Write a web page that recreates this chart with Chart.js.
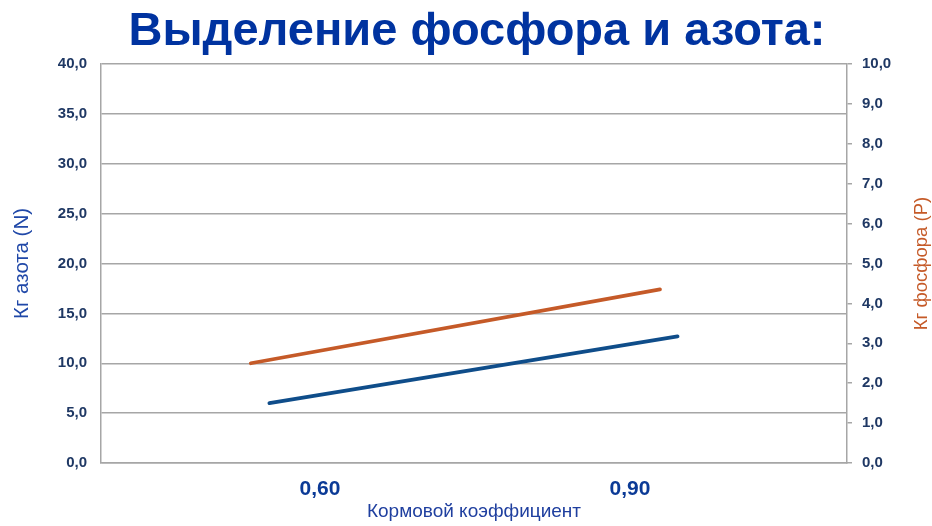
<!DOCTYPE html>
<html>
<head>
<meta charset="utf-8">
<script src="https://cdn.jsdelivr.net/npm/chart.js@4.4.0/dist/chart.umd.min.js"></script>
<style>
  html, body { margin: 0; padding: 0; background: #fff; }
  #wrap { width: 932px; height: 526px; }
</style>
</head>
<body>
<div id="wrap"><canvas id="chart"></canvas></div>
<script>
const titleText = "Выделение фосфора и азота:";
const xTitle = "Кормовой коэффициент";
const leftTitle = "Кг азота (N)";
const rightTitle = "Кг фосфора (P)";

const xTicks = [0.6, 0.9];

// азот (левая ось)
const nitrogenX = [0.551, 0.946];
const nitrogen = [6.0, 12.7];

// фосфор (правая ось)
const phosphorusX = [0.533, 0.929];
const phosphorus = [2.5, 4.35];

const comma = (v, d) => Number(v).toFixed(d).replace(".", ",");
const toPoints = (xs, ys) => xs.map((x, i) => ({ x: x, y: ys[i] }));

// заголовок и правая подпись оси рисуются вручную
const extraText = {
  id: "extraText",
  afterDraw(chart) {
    const { ctx, chartArea } = chart;
    ctx.save();
    ctx.font = "bold 47px 'Liberation Sans', Arial, sans-serif";
    ctx.fillStyle = "#0033A0";
    ctx.textAlign = "center";
    ctx.textBaseline = "alphabetic";
    ctx.fillText(titleText, 477, 45);

    ctx.translate(922, (chartArea.top + chartArea.bottom) / 2);
    ctx.rotate(-Math.PI / 2);
    ctx.font = "18.5px 'Liberation Sans', Arial, sans-serif";
    ctx.fillStyle = "#C55A28";
    ctx.textBaseline = "middle";
    ctx.fillText(rightTitle, 0, 0);
    ctx.restore();
  }
};

const ctx = document.getElementById("chart");

new Chart(ctx, {
  type: "line",
  data: {
    datasets: [
      {
        label: "N",
        data: toPoints(nitrogenX, nitrogen),
        borderColor: "#0F4D8A",
        borderWidth: 3.8,
        borderCapStyle: "round",
        pointRadius: 0,
        yAxisID: "y",
      },
      {
        label: "P",
        data: toPoints(phosphorusX, phosphorus),
        borderColor: "#C55A28",
        borderWidth: 3.8,
        borderCapStyle: "round",
        pointRadius: 0,
        yAxisID: "y2",
      },
    ],
  },
  plugins: [extraText],
  options: {
    responsive: true,
    maintainAspectRatio: false,
    animation: false,
    layout: { padding: { top: 64 } },
    plugins: {
      legend: { display: false },
      tooltip: { enabled: false },
      title: { display: false },
    },
    scales: {
      x: {
        type: "linear",
        min: 0.388,
        max: 1.11,
        afterBuildTicks: (scale) => {
          scale.ticks = xTicks.map((v) => ({ value: v }));
        },
        afterFit: (scale) => { scale.height = 63; },
        grid: { display: false, drawTicks: false },
        border: { color: "#A6A6A6", width: 1.5 },
        ticks: {
          color: "#0B3A96",
          padding: 14,
          maxRotation: 0,
          font: { family: "'Liberation Sans', sans-serif", size: 21, weight: "bold" },
          callback: (v) => comma(v, 2),
        },
        title: {
          display: true,
          text: xTitle,
          color: "#1F3F9F",
          padding: { top: 0, bottom: 3 },
          font: { family: "'Liberation Sans', sans-serif", size: 19 },
        },
      },
      y: {
        position: "left",
        min: 0,
        max: 40,
        afterFit: (scale) => { scale.width = 101; },
        grid: { color: "#A6A6A6", lineWidth: 1.5, drawTicks: false },
        border: { color: "#A6A6A6", width: 1.5 },
        ticks: {
          stepSize: 5,
          padding: 14,
          color: "#1F3864",
          font: { family: "'Liberation Sans', Arial, sans-serif", size: 15, weight: "bold" },
          callback: (v) => comma(v, 1),
        },
        title: {
          display: true,
          text: leftTitle,
          color: "#2048A8",
          padding: { top: 10, bottom: 0 },
          font: { family: "'Liberation Sans', Arial, sans-serif", size: 20.5 },
        },
      },
      y2: {
        position: "right",
        min: 0,
        max: 10,
        afterFit: (scale) => { scale.width = 85; },
        grid: { drawOnChartArea: false, color: "#A6A6A6", lineWidth: 1.5, tickLength: 5 },
        border: { color: "#A6A6A6", width: 1.5 },
        ticks: {
          stepSize: 1,
          padding: 10,
          color: "#1F3864",
          font: { family: "'Liberation Sans', Arial, sans-serif", size: 15, weight: "bold" },
          callback: (v) => comma(v, 1),
        },
      },
    },
  },
});
</script>
</body>
</html>
